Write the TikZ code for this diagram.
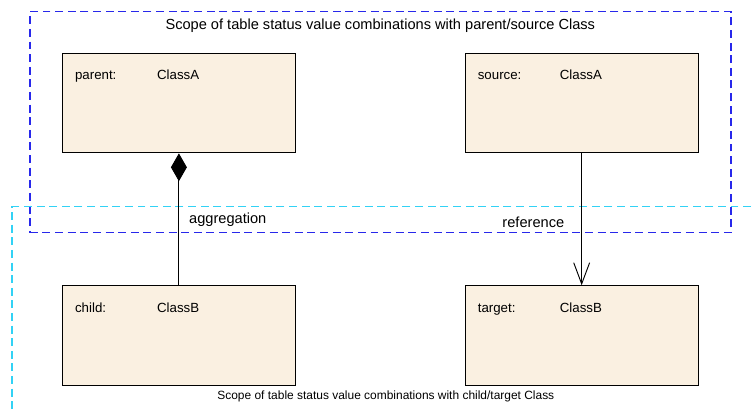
\documentclass[tikz,border=0pt]{standalone}
\usepackage{fontspec}
\setmainfont{Liberation Sans}
\usepackage{tikz}
\usetikzlibrary{calc,positioning,arrows.meta}
\definecolor{classFill}{RGB}{250,240,225}
\definecolor{scopeBlue}{RGB}{40,40,235}
\definecolor{scopeCyan}{RGB}{50,210,245}
\tikzstyle{classbox} = [rectangle, draw=black, line width=0.8pt, fill=classFill, minimum width=6.16cm, minimum height=2.63cm]
\tikzstyle{role} = [inner sep=0pt, anchor=base west, font=\fontsize{10}{12}\selectfont]
\tikzstyle{aggr} = [line width=0.7pt, {Diamond[length=21pt,width=12pt]}-]
\tikzstyle{assoc} = [line width=0.7pt, -{Straight Barb[length=16pt,width=12pt,line width=0.7pt]}]

\begin{document}
\begin{tikzpicture}
\tikzset{%
	scopebox/.style = { rectangle, line width=1.1pt, dash pattern=on 6pt off 3.5pt, anchor=north west, inner sep=0pt },
	lbl/.style = { inner sep=0pt, font=\fontsize{11}{13}\selectfont }
}
\useasboundingbox (0,0) rectangle (19.9,-10.9);

% scopes
\node(ScopeParent)	[scopebox, draw=scopeBlue, minimum width=18.55cm, minimum height=5.85cm] at (0.77,-0.29) {};
\node(ScopeChild)	[scopebox, draw=scopeCyan, minimum width=19.9cm, minimum height=5.8cm] at (0.30,-5.45) {};

\node(ScopeParentTitle)	[lbl, anchor=base] at ($(ScopeParent.north)+(0,-0.48)$)
								{Scope of table status value combinations with parent/source Class};
\node(ScopeChildTitle)	[lbl, anchor=base, font=\fontsize{9}{11}\selectfont] at (10.21,-10.56)
								{Scope of table status value combinations with child/target Class};

% classes
\node(ParentA)		[classbox, anchor=north west] at (1.64,-1.40) {};
\node(SourceA)		[classbox, right=4.47cm of ParentA.east] {};
\node(ChildB)		[classbox, below=3.49cm of ParentA.south] {};
\node(TargetB)		[classbox, below=3.49cm of SourceA.south] {};

\node(ParentRole)	[role] at ($(ParentA.north west)+(0.34,-0.71)$) {parent:};
\node(ParentType)	[role] at ($(ParentA.north west)+(2.51,-0.71)$) {ClassA};
\node(SourceRole)	[role] at ($(SourceA.north west)+(0.34,-0.71)$) {source:};
\node(SourceType)	[role] at ($(SourceA.north west)+(2.51,-0.71)$) {ClassA};
\node(ChildRole)	[role] at ($(ChildB.north west)+(0.34,-0.71)$) {child:};
\node(ChildType)	[role] at ($(ChildB.north west)+(2.51,-0.71)$) {ClassB};
\node(TargetRole)	[role] at ($(TargetB.north west)+(0.34,-0.71)$) {target:};
\node(TargetType)	[role] at ($(TargetB.north west)+(2.51,-0.71)$) {ClassB};

\draw [aggr]		(ParentA) -- node[lbl, pos=0.5, right=0.26cm] {aggregation} (ChildB);
\draw [assoc]	(SourceA) -- node[lbl, pos=0.52, left=0.45cm] {reference} (TargetB);

\end{tikzpicture}
\end{document}
